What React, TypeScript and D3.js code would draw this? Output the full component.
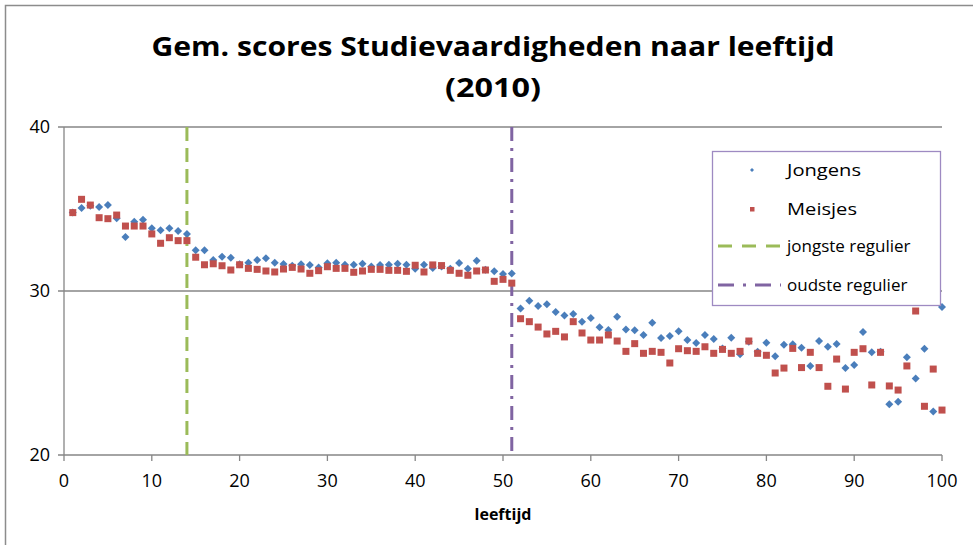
import React from "react";
import * as d3 from "d3";

const ages: number[] = d3.range(1, 101);

const jongens: number[] = [
  34.78, 35.06, 35.2, 35.12, 35.24, 34.43, 33.29, 34.23, 34.35, 33.82,
  33.7, 33.82, 33.66, 33.48, 32.48, 32.48, 31.89, 32.09, 32.03, 31.63,
  31.73, 31.89, 31.99, 31.73, 31.65, 31.54, 31.63, 31.59, 31.44, 31.69,
  31.73, 31.6, 31.6, 31.66, 31.5, 31.59, 31.6, 31.66, 31.6, 31.36,
  31.6, 31.4, 31.5, 31.36, 31.71, 31.36, 31.85, 31.3, 31.2, 31.04,
  31.06, 28.94, 29.41, 29.09, 29.19, 28.72, 28.5, 28.6, 28.13, 28.35,
  27.79, 27.62, 28.43, 27.66, 27.6, 27.32, 28.07, 27.13, 27.26, 27.54,
  27.01, 26.83, 27.32, 27.07, 26.5, 27.15, 26.14, 26.9, 26.3, 26.85,
  26.02, 26.73, 26.75, 26.54, 25.43, 26.95, 26.6, 26.77, 25.3, 25.49,
  27.5, 26.26, 26.3, 23.09, 23.25, 25.96, 24.67, 26.48, 22.66, 29.02,
];

const meisjes: number[] = [
  34.78, 35.59, 35.24, 34.47, 34.41, 34.63, 33.96, 33.96, 33.96, 33.48,
  32.91, 33.25, 33.07, 33.07, 32.06, 31.6, 31.66, 31.54, 31.28, 31.6,
  31.38, 31.32, 31.22, 31.16, 31.34, 31.44, 31.34, 31.08, 31.24, 31.48,
  31.38, 31.38, 31.14, 31.22, 31.32, 31.32, 31.26, 31.26, 31.2, 31.57,
  31.16, 31.59, 31.55, 31.26, 31.08, 30.96, 31.22, 31.28, 30.59, 30.71,
  30.48, 28.31, 28.13, 27.8, 27.38, 27.54, 27.2, 28.13, 27.44, 27.01,
  27.01, 27.32, 26.95, 26.32, 26.79, 26.2, 26.32, 26.26, 25.61, 26.48,
  26.36, 26.32, 26.6, 26.2, 26.44, 26.2, 26.32, 26.95, 26.2, 26.08,
  25.0, 25.3, 26.5, 25.33, 26.26, 25.33, 24.19, 25.85, 24.02, 26.26,
  26.48, 24.27, 26.26, 24.21, 23.96, 25.43, 28.78, 22.97, 25.24, 22.74,
];

const xTicks: number[] = [0, 10, 20, 30, 40, 50, 60, 70, 80, 90, 100];
const yTicks: number[] = [20, 30, 40];
const refLines = [
  { label: "jongste regulier", age: 14 },
  { label: "oudste regulier", age: 51 },
];
const seriesNames: string[] = ["Jongens", "Meisjes"];

const W = 973;
const H = 545;
const BLUE = "#4a7ebb";
const RED = "#c0504d";
const GREEN = "#9bbb59";
const PURPLE = "#8064a2";
const GRID = "#868686";
const FONT = "'Open Sans', 'Liberation Sans', sans-serif";

const diamondPath = (r: number) => `M0,${-r}L${r},0L0,${r}L${-r},0Z`;

export default function App() {
  const x = d3.scaleLinear().domain([0, 100]).range([64, 942]);
  const y = d3.scaleLinear().domain([20, 40]).range([455, 127]);
  const diamond = diamondPath(4);
  const dashes = ["14,7", "14,7,3,7"];
  const colors = [GREEN, PURPLE];

  return (
    <svg width={W} height={H} style={{ position: "absolute", left: 0, top: 0 }}>
      <rect x={0} y={0} width={W} height={H} fill="#fff" />
      <rect x={5.5} y={5.5} width={1000} height={600} fill="none" stroke="#8c8c8c" strokeWidth={1.5} />

      <text x={493} y={56} textAnchor="middle" fontFamily={FONT} fontWeight="bold" fontSize={27}
        textLength={683} lengthAdjust="spacingAndGlyphs">
        Gem. scores Studievaardigheden naar leeftijd
      </text>
      <text x={493} y={97} textAnchor="middle" fontFamily={FONT} fontWeight="bold" fontSize={27}
        textLength={96} lengthAdjust="spacingAndGlyphs">
        (2010)
      </text>

      {yTicks.map((t) => (
        <g key={"y" + t}>
          <line x1={58} x2={942} y1={y(t)} y2={y(t)} stroke={GRID} strokeWidth={1.3} />
          <text x={50} y={y(t) + 6} textAnchor="end" fontFamily={FONT} fontSize={18}>{t}</text>
        </g>
      ))}
      <line x1={64} x2={64} y1={127} y2={455} stroke={GRID} strokeWidth={1.3} />
      {xTicks.map((t) => (
        <g key={"x" + t}>
          <line x1={x(t)} x2={x(t)} y1={455} y2={461} stroke={GRID} strokeWidth={1.3} />
          <text x={x(t)} y={487} textAnchor="middle" fontFamily={FONT} fontSize={18}>{t}</text>
        </g>
      ))}
      <text x={503} y={520} textAnchor="middle" fontFamily={FONT} fontWeight="bold" fontSize={16}>leeftijd</text>

      {refLines.map((r, i) => (
        <line key={r.label} x1={x(r.age)} x2={x(r.age)} y1={y(40)} y2={y(20)}
          stroke={colors[i]} strokeWidth={3} strokeDasharray={dashes[i]} />
      ))}

      {ages.map((a, i) => (
        <path key={"j" + a} d={diamond} transform={`translate(${x(a)},${y(jongens[i])})`} fill={BLUE} />
      ))}
      {ages.map((a, i) => (
        <rect key={"m" + a} x={x(a) - 3.5} y={y(meisjes[i]) - 3.5} width={7} height={7} fill={RED} />
      ))}

      <rect x={712.5} y={151.5} width={228} height={154} fill="#fff" stroke="#9e8ac2" strokeWidth={1.3} />
      <path d={diamondPath(2)} transform="translate(752,170)" fill={BLUE} />
      <text x={787} y={176} fontFamily={FONT} fontSize={17} textLength={74} lengthAdjust="spacingAndGlyphs">{seriesNames[0]}</text>
      <rect x={750} y={207} width={4.5} height={4.5} fill={RED} />
      <text x={787} y={215} fontFamily={FONT} fontSize={17} textLength={70} lengthAdjust="spacingAndGlyphs">{seriesNames[1]}</text>
      {refLines.map((r, i) => (
        <g key={"leg" + r.label}>
          <line x1={718} x2={781} y1={246 + i * 39} y2={246 + i * 39} stroke={colors[i]} strokeWidth={3}
            strokeDasharray={i === 0 ? "14,10" : "16,9,3,9"} />
          <text x={787} y={252 + i * 39} fontFamily={FONT} fontSize={17}>{r.label}</text>
        </g>
      ))}
    </svg>
  );
}
